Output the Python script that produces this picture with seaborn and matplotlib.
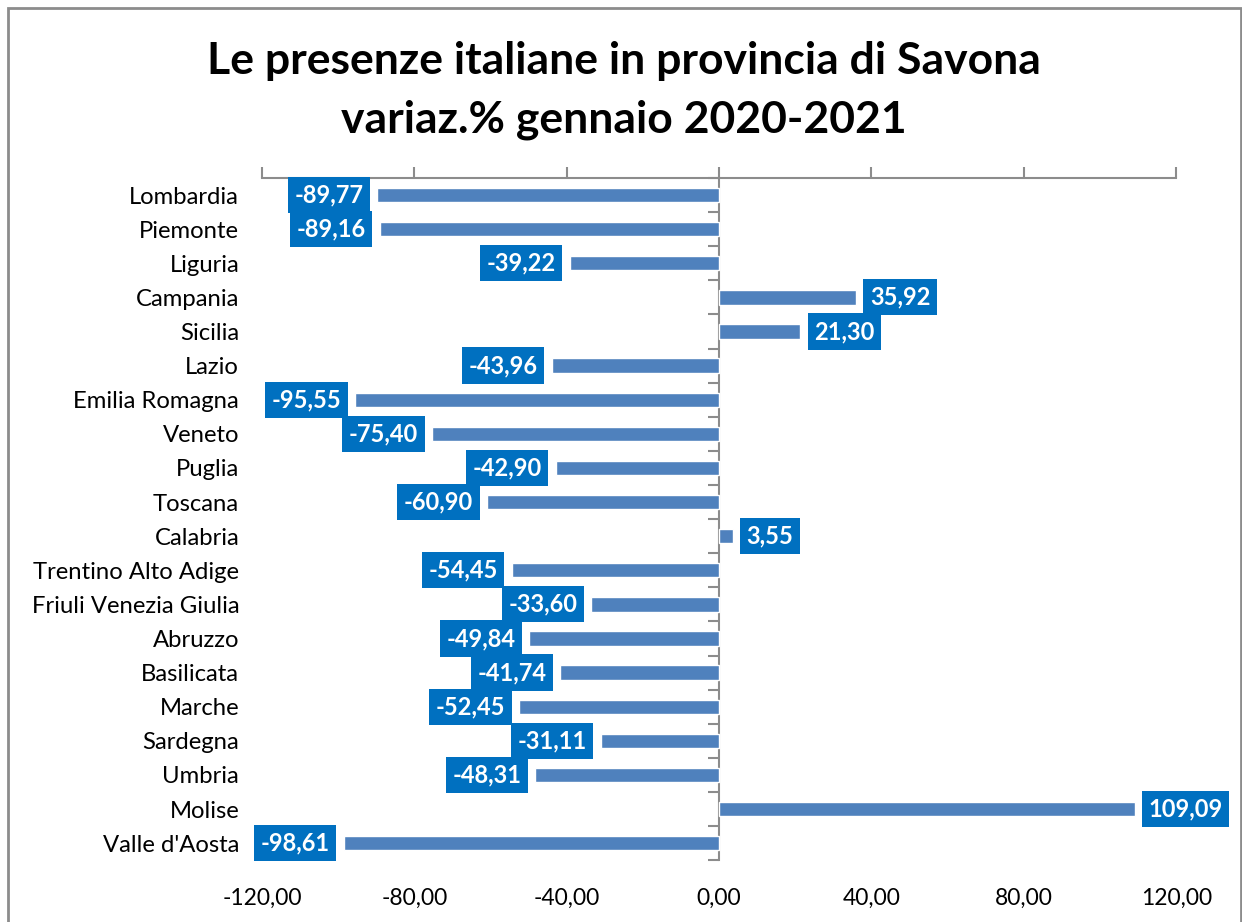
import matplotlib
matplotlib.use('Agg')

import matplotlib.pyplot as plt
import matplotlib.patches as mpatches
import seaborn as sns
import pandas as pd

regions = ["Lombardia", "Piemonte", "Liguria", "Campania", "Sicilia", "Lazio",
           "Emilia Romagna", "Veneto", "Puglia", "Toscana", "Calabria",
           "Trentino Alto Adige", "Friuli Venezia Giulia", "Abruzzo",
           "Basilicata", "Marche", "Sardegna", "Umbria", "Molise",
           "Valle d'Aosta"]
variazione = [-89.77, -89.16, -39.22, 35.92, 21.30, -43.96, -95.55, -75.40,
              -42.90, -60.90, 3.55, -54.45, -33.60, -49.84, -41.74, -52.45,
              -31.11, -48.31, 109.09, -98.61]
x_ticks = [-120, -80, -40, 0, 40, 80, 120]

BAR_COLOR = "#4F81BD"
LABEL_COLOR = "#0070C0"
AXIS_GRAY = "#8C8C8C"

sns.set_style("white")
plt.rcParams['font.family'] = ['Lato', 'DejaVu Sans']

df = pd.DataFrame({"regione": regions, "variazione": variazione})

fig = plt.figure(figsize=(12.42, 9.22), dpi=100)
ax = fig.add_axes([0.211, 0.067, 0.736, 0.740])

sns.barplot(data=df, y="regione", x="variazione", orient="h",
            color=BAR_COLOR, saturation=1, width=0.42, ax=ax)

ax.set_xlim(-120, 120)
ax.set_ylim(len(regions) - 0.5, -0.5)
ax.set_xlabel("")
ax.set_ylabel("")

# x axis: line + tick marks on top, labels at bottom
ax.set_xticks(x_ticks)
ax.set_xticklabels([f"{v:.2f}".replace(".", ",") for v in x_ticks])
ax.tick_params(axis="x", top=True, bottom=False, labeltop=False,
               labelbottom=True, direction="out", length=8, width=1.5,
               color=AXIS_GRAY, labelsize=16.5, labelcolor="black", pad=12)
ax.tick_params(axis="y", left=False, labelsize=17.2, labelcolor="black",
               pad=13)
for s in ["left", "right", "bottom"]:
    ax.spines[s].set_visible(False)
ax.spines["top"].set_color(AXIS_GRAY)
ax.spines["top"].set_linewidth(1.5)

# vertical axis at zero with tick marks between categories
sec = ax.secondary_yaxis(0.5)
sec.set_yticks([i - 0.5 for i in range(len(regions) + 1)])
sec.set_yticklabels([])
sec.tick_params(axis="y", direction="in", length=8, width=1.5,
                color=AXIS_GRAY)
for sp in sec.spines.values():
    sp.set_color(AXIS_GRAY)
    sp.set_linewidth(1.5)

# data labels
for i, v in enumerate(variazione):
    txt = f"{v:.2f}".replace(".", ",")
    off = 10 if v >= 0 else -10
    ax.annotate(txt, xy=(v, i), xytext=(off, 0), textcoords="offset points",
                ha="left" if v >= 0 else "right", va="center",
                fontsize=17, fontweight="bold", color="white",
                bbox=dict(boxstyle="square,pad=0.28", fc=LABEL_COLOR,
                          ec="none"))

fig.text(0.502, 0.902,
         "Le presenze italiane in provincia di Savona\nvariaz.% gennaio 2020-2021",
         ha="center", va="center", fontsize=32, fontweight="bold",
         color="black", linespacing=1.58)

# chart border
border = mpatches.Rectangle((8 / 1242, -0.05), 1233 / 1242, 1 - 8 / 922 + 0.05,
                            transform=fig.transFigure, fill=False,
                            ec=AXIS_GRAY, lw=2, clip_on=False)
fig.patches.append(border)

fig.savefig("out.png", dpi=100)
plt.close(fig)
